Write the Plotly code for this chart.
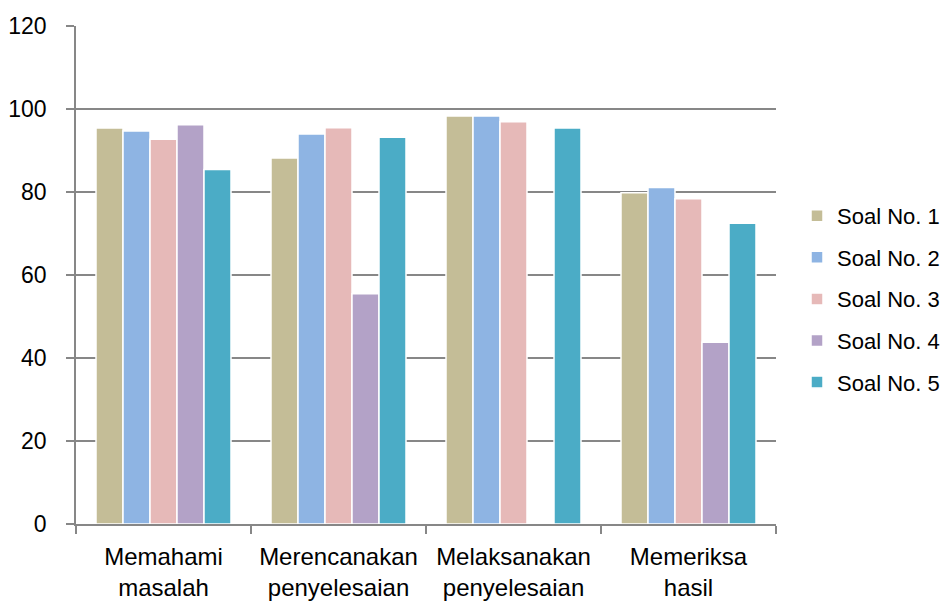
import plotly.graph_objects as go

categories = ["Memahami<br>masalah", "Merencanakan<br>penyelesaian",
              "Melaksanakan<br>penyelesaian", "Memeriksa<br>hasil"]
series_names = ["Soal No. 1", "Soal No. 2", "Soal No. 3", "Soal No. 4", "Soal No. 5"]
soal1 = [95.4, 88.2, 98.3, 79.8]
soal2 = [94.7, 94.0, 98.3, 81.1]
soal3 = [92.7, 95.5, 96.9, 78.4]
soal4 = [96.2, 55.5, None, 43.8]
soal5 = [85.4, 93.2, 95.4, 72.5]
series_values = [soal1, soal2, soal3, soal4, soal5]
colors = ["#C4BD97", "#8EB4E3", "#E6B9B8", "#B3A2C7", "#4BACC6"]
y_ticks = [0, 20, 40, 60, 80, 100, 120]

FONT = "Liberation Sans, Arial, sans-serif"

fig = go.Figure()
for i, (name, vals, col) in enumerate(zip(series_names, series_values, colors)):
    fig.add_trace(go.Bar(
        x=categories, y=vals, name=name, legendgroup=f"g{i}",
        marker=dict(color=col, line=dict(color="white", width=1.5)),
    ))

fig.update_layout(
    width=943, height=598,
    margin=dict(l=68, r=175, t=18, b=82, autoexpand=False),
    paper_bgcolor="white", plot_bgcolor="white",
    barmode="group", bargap=0.2286, bargroupgap=0,
    font=dict(family=FONT, size=23, color="black"),
    legend=dict(x=1.03, xanchor="left", y=0.452, yanchor="middle",
                font=dict(family=FONT, size=22, color="black"),
                tracegroupgap=10, bgcolor="rgba(0,0,0,0)"),
    showlegend=True,
)
fig.update_xaxes(
    showline=True, linecolor="#878787", linewidth=1.5,
    ticks="outside", ticklen=8, tickcolor="#878787", tickwidth=1.5,
    tickson="boundaries", showgrid=False, automargin=False,
    ticklabelstandoff=10,
    tickfont=dict(family=FONT, size=24, color="black"),
)
fig.update_yaxes(
    range=[0, 120], tickvals=y_ticks,
    showline=True, linecolor="#878787", linewidth=1.5,
    ticks="outside", ticklen=8, tickcolor="#878787", tickwidth=1.5,
    showgrid=True, gridcolor="#878787", gridwidth=1.5,
    zeroline=False, ticklabelstandoff=15, automargin=False,
    tickfont=dict(family=FONT, size=23, color="black"),
)
fig.write_html("out.html")
